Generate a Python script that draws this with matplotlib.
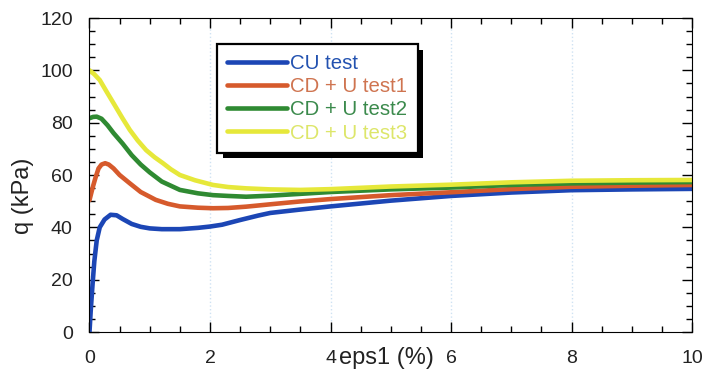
import matplotlib
matplotlib.use("Agg")
import matplotlib.pyplot as plt
import matplotlib.patheffects as pe
from matplotlib.ticker import MultipleLocator

plt.rcParams['font.family'] = ['Liberation Sans', 'DejaVu Sans']

# ------------------
# DATA
# ------------------
cu_x = [0, 0.02, 0.05, 0.08, 0.12, 0.17, 0.25, 0.35, 0.45, 0.55, 0.7, 0.85, 1.0, 1.2,
        1.5, 1.8, 2.0, 2.2, 2.5, 2.8, 3.0, 3.5, 4, 5, 6, 7, 8, 9, 10]
cu_q = [0, 8, 18, 27, 35, 40, 43, 44.8, 44.6, 43.2, 41.3, 40.2, 39.6, 39.3,
        39.3, 39.8, 40.3, 41.0, 42.8, 44.5, 45.5, 46.8, 48, 50.2, 52, 53.3, 54.2, 54.5, 54.7]

t1_x = [0, 0.05, 0.1, 0.15, 0.2, 0.26, 0.32, 0.4, 0.5, 0.67, 0.85, 1.1, 1.3, 1.5,
        1.8, 2.05, 2.3, 2.6, 3.0, 3.5, 4, 5, 6, 7, 8, 9, 10]
t1_q = [50.4, 55, 59, 62.5, 64, 64.5, 64, 62.5, 60, 56.8, 53.5, 50.5, 49, 48,
        47.5, 47.3, 47.4, 47.9, 48.8, 49.9, 50.8, 52.3, 53.4, 54.6, 55.5, 55.9, 56.2]

t2_x = [0, 0.06, 0.12, 0.2, 0.3, 0.4, 0.55, 0.7, 0.85, 1.0, 1.2, 1.5, 1.8, 2.05,
        2.3, 2.6, 3.0, 3.5, 4, 5, 6, 7, 8, 9, 10]
t2_q = [81.7, 82.2, 82.3, 81.5, 79, 76, 72, 67.6, 64, 61, 57.5, 54.3, 53, 52.3,
        52, 51.7, 52.1, 52.8, 53.5, 54.5, 55.2, 56.2, 56.8, 57.1, 57.3]

t3_x = [0, 0.08, 0.17, 0.28, 0.4, 0.55, 0.67, 0.8, 0.94, 1.08, 1.22, 1.35, 1.5, 1.75,
        2.05, 2.3, 2.6, 3.0, 3.5, 4, 5, 6, 7, 8, 9, 10]
t3_q = [100, 98.5, 96.3, 92, 87.4, 81.6, 77.2, 73.2, 69.5, 66.8, 64.5, 62.2, 60, 58,
        56.2, 55.4, 54.9, 54.5, 54.3, 54.6, 55.6, 56.3, 57.2, 57.8, 58, 58.1]

labels = ['CU test', 'CD + U test1', 'CD + U test2', 'CD + U test3']
colors = ['#1c46b5', '#d65a2c', '#2f8a32', '#e6e83a']
text_colors = ['#2352b0', '#cf7450', '#3b8a4c', '#dde66a']

# ------------------
# PLOT
# ------------------
fig = plt.figure(figsize=(7.03, 3.79), dpi=100)
ax = fig.add_axes([0.1273, 0.124, 0.8571, 0.8285])

for xs, qs, lab, col in zip([cu_x, t1_x, t2_x, t3_x], [cu_q, t1_q, t2_q, t3_q], labels, colors):
    ax.plot(xs, qs, color=col, linewidth=3.3, label=lab, solid_capstyle='round')

ax.set_xlim(0, 10)
ax.set_ylim(0, 120)
ax.xaxis.set_major_locator(MultipleLocator(2))
ax.xaxis.set_minor_locator(MultipleLocator(0.5))
ax.yaxis.set_major_locator(MultipleLocator(20))
ax.yaxis.set_minor_locator(MultipleLocator(5))
ax.tick_params(which='both', direction='in', top=True, right=True, labelsize=14,
               labelcolor='#222222')
ax.tick_params(which='major', length=7, width=1)
ax.tick_params(which='minor', length=4, width=1)
ax.tick_params(axis='x', pad=13)
ax.tick_params(axis='y', pad=12)
ax.grid(axis='x', which='major', color='#cfe2f3', linestyle=':', linewidth=1)

ax.set_xlabel('eps1 (%)', fontsize=17, color='#222222', va='center')
ax.xaxis.set_label_coords(0.493, -0.083)
ax.set_ylabel('q (kPa)', fontsize=17, color='#222222', va='center')
ax.yaxis.set_label_coords(-0.11, 0.435)

leg = ax.legend(loc='upper left', bbox_to_anchor=(0.2116, 0.917), borderaxespad=0,
                fontsize=14.7, handlelength=2.95, handletextpad=0.15,
                borderpad=0.5, labelspacing=0.2, fancybox=False, shadow=False,
                framealpha=1)
for txt, tc in zip(leg.get_texts(), text_colors):
    txt.set_color(tc)
frame = leg.get_frame()
frame.set_edgecolor('black')
frame.set_linewidth(1.6)
frame.set_path_effects([pe.SimplePatchShadow(offset=(4, -4), shadow_rgbFace='black', alpha=1),
                        pe.Normal()])

fig.savefig('out.png', dpi=100)
